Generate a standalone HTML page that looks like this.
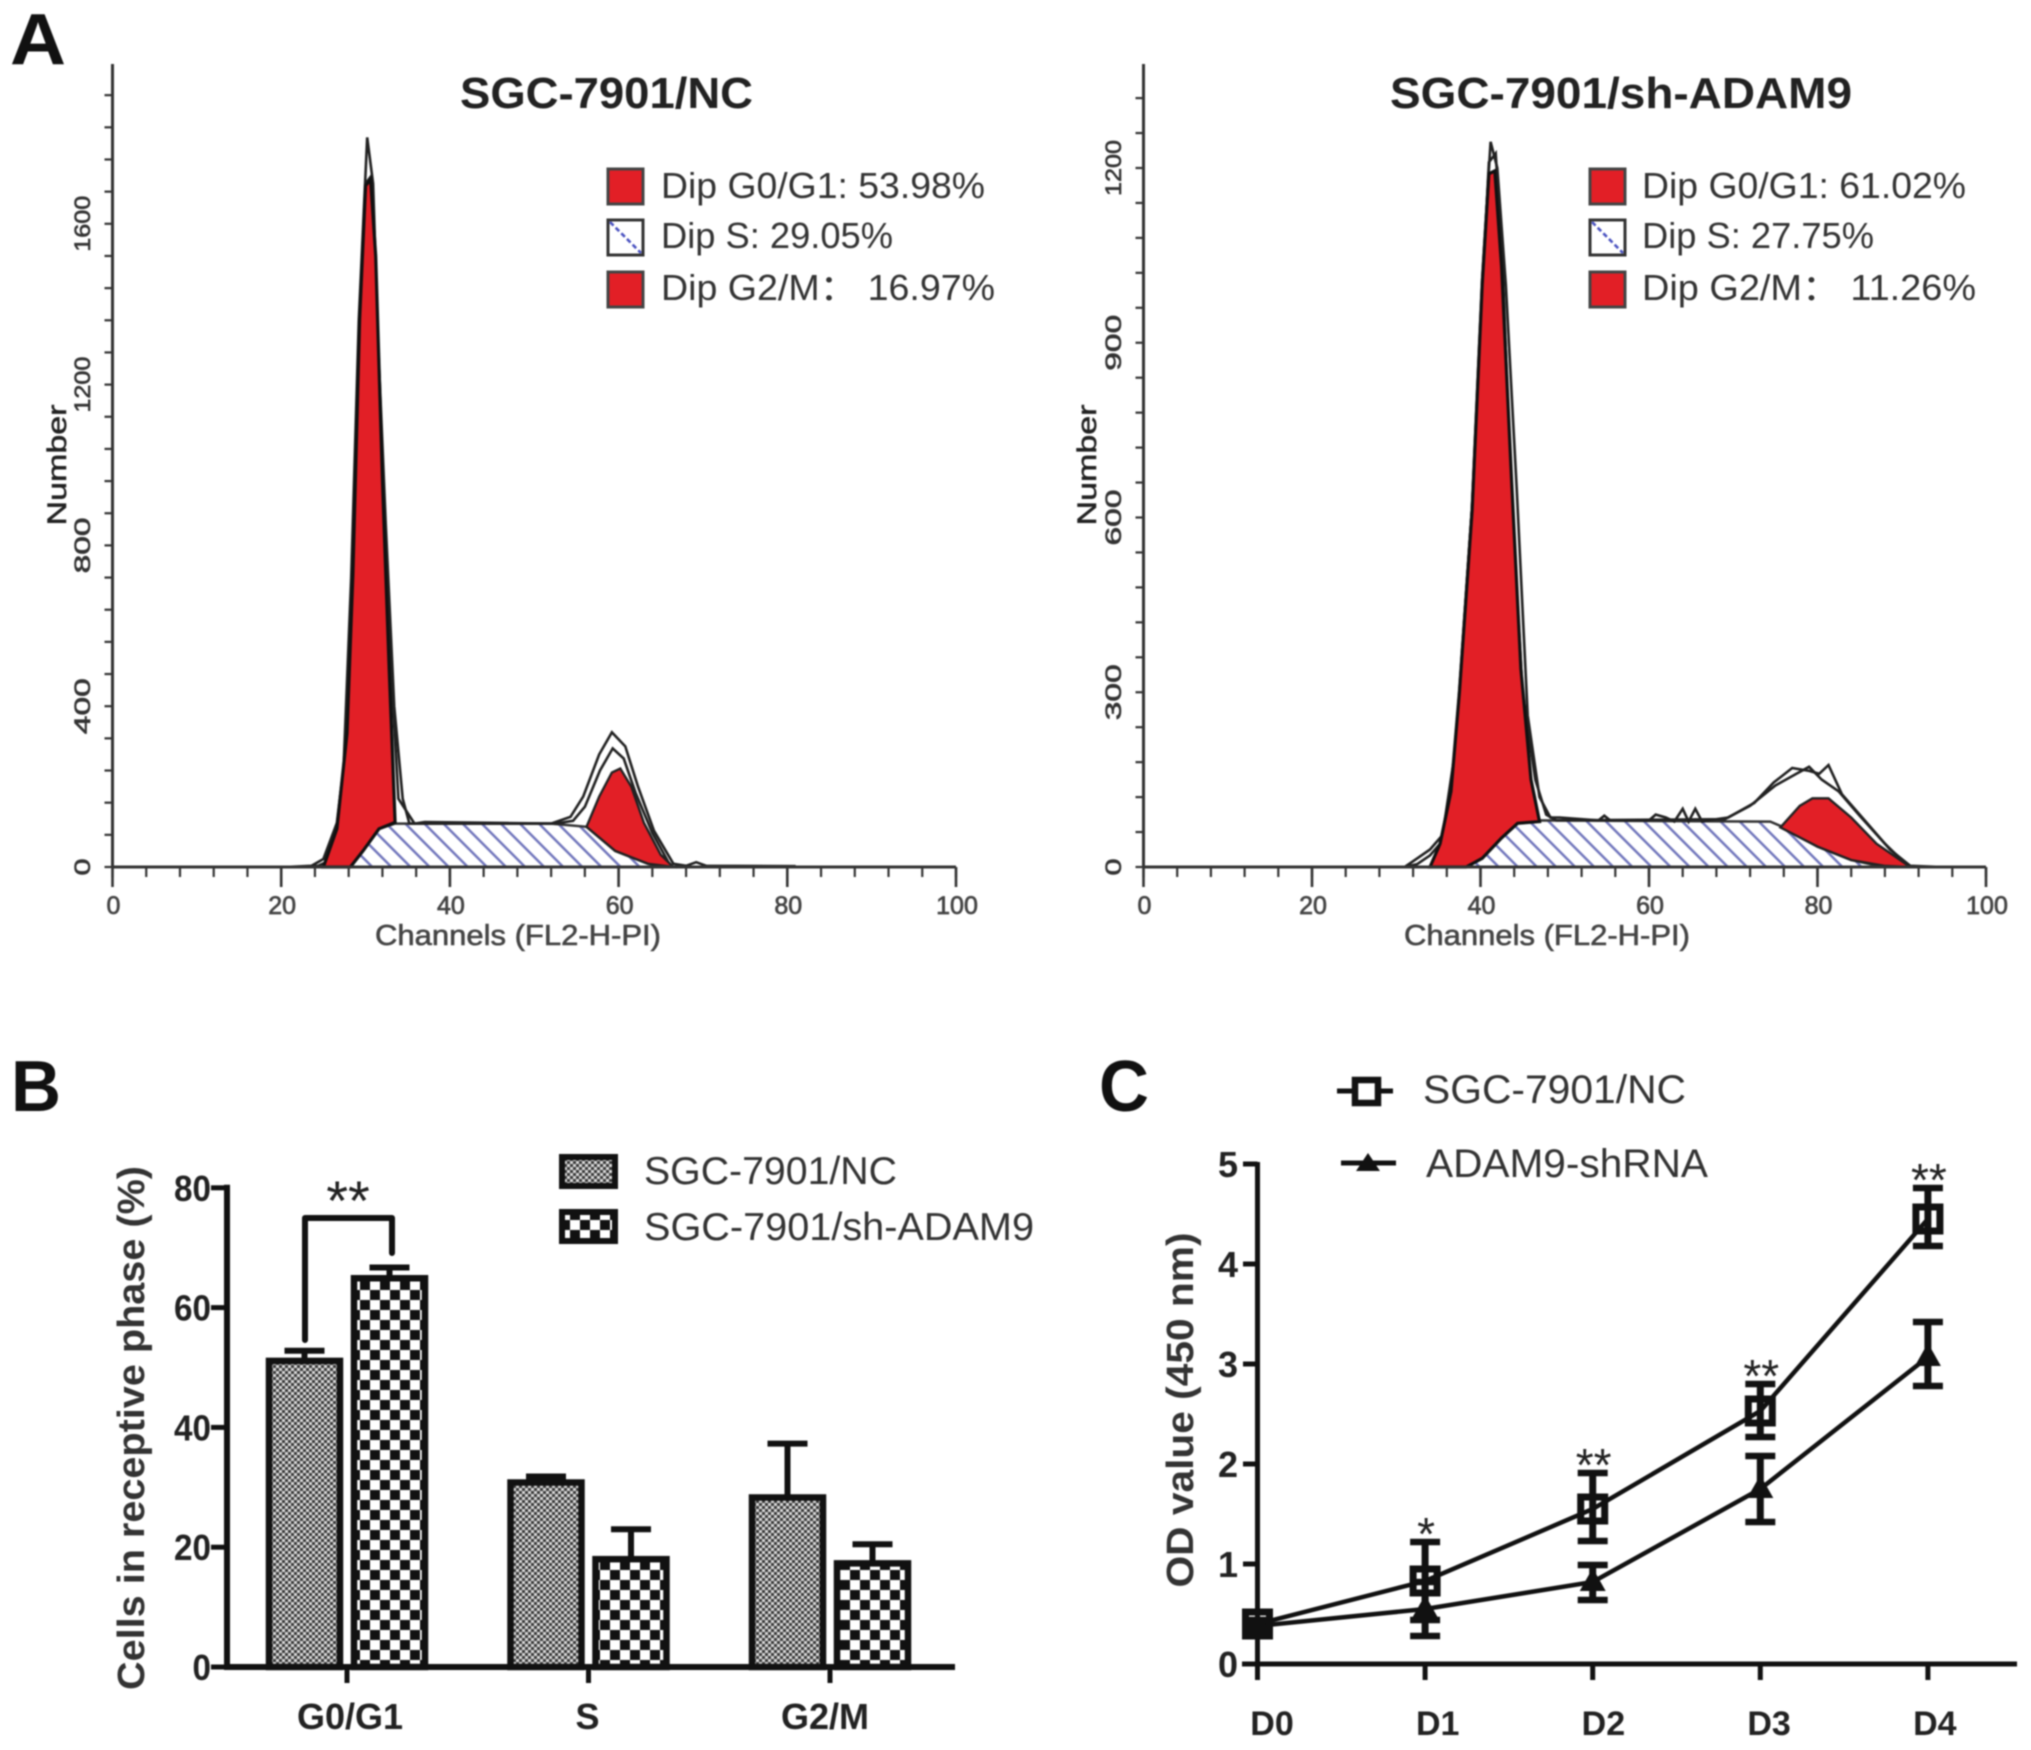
<!DOCTYPE html>
<html lang="en">
<head>
<meta charset="utf-8">
<title>Cell cycle and proliferation figure</title>
<style>
html,body{margin:0;padding:0;background:#fff;}
body{width:2031px;height:1750px;overflow:hidden;}
svg{display:block;filter:blur(0.9px);}
text{font-family:"Liberation Sans","Noto Sans CJK SC",sans-serif;}
</style>
</head>
<body>
<svg id="figure" xmlns="http://www.w3.org/2000/svg" width="2031" height="1750" viewBox="0 0 2031 1750">
<defs>
<pattern id="hatch" patternUnits="userSpaceOnUse" width="13.5" height="13.5" patternTransform="rotate(-45)">
<rect width="13.5" height="13.5" fill="#fff"/><rect x="0" y="0" width="2.5" height="13.5" fill="#7378bd"/>
</pattern>
<pattern id="fine" patternUnits="userSpaceOnUse" width="6" height="6">
<rect width="6" height="6" fill="#d8d8d8"/><rect width="3" height="3" fill="#3a3a3a"/><rect x="3" y="3" width="3" height="3" fill="#3a3a3a"/>
</pattern>
<pattern id="checker" patternUnits="userSpaceOnUse" width="20" height="20">
<rect width="20" height="20" fill="#fff"/><rect width="10" height="10" fill="#111"/><rect x="10" y="10" width="10" height="10" fill="#111"/>
</pattern>
</defs>
<rect width="2031" height="1750" fill="#fff"/>

<text x="10" y="64" font-size="72" font-weight="700" fill="#111" textLength="56" lengthAdjust="spacingAndGlyphs">A</text>
<text x="11" y="1111" font-size="72" font-weight="700" fill="#111" textLength="50" lengthAdjust="spacingAndGlyphs">B</text>
<text x="1099" y="1111" font-size="72" font-weight="700" fill="#111" textLength="50" lengthAdjust="spacingAndGlyphs">C</text>

<text x="460" y="108" font-size="44" font-weight="700" fill="#222" textLength="293" lengthAdjust="spacingAndGlyphs">SGC-7901/NC</text>
<text x="1390" y="108" font-size="44" font-weight="700" fill="#222" textLength="462" lengthAdjust="spacingAndGlyphs">SGC-7901/sh-ADAM9</text>

<g id="histNC"></g>
<g id="histSH"></g>

<g>
<rect x="608" y="169" width="35" height="35" fill="#e21f26" stroke="#444" stroke-width="3"/>
<rect x="608" y="220" width="35" height="35" fill="#fff" stroke="#333" stroke-width="3"/>
<line x1="610" y1="222" x2="641" y2="253" stroke="#4a52c0" stroke-width="2.6" stroke-dasharray="5 3"/>
<rect x="608" y="272" width="35" height="35" fill="#e21f26" stroke="#444" stroke-width="3"/>
<text x="661" y="198" font-size="36" fill="#333" textLength="324" lengthAdjust="spacingAndGlyphs">Dip G0/G1: 53.98%</text>
<text x="661" y="248" font-size="36" fill="#333" textLength="232" lengthAdjust="spacingAndGlyphs">Dip S: 29.05%</text>
<text x="661" y="300" font-size="36" fill="#333" textLength="334" lengthAdjust="spacingAndGlyphs">Dip G2/M：  16.97%</text>
</g>
<g>
<rect x="1595" y="169" width="35" height="35" fill="#e21f26" stroke="#444" stroke-width="3" transform="translate(-5,0)"/>
<rect x="1590" y="220" width="35" height="35" fill="#fff" stroke="#333" stroke-width="3"/>
<line x1="1592" y1="222" x2="1623" y2="253" stroke="#4a52c0" stroke-width="2.6" stroke-dasharray="5 3"/>
<rect x="1590" y="272" width="35" height="35" fill="#e21f26" stroke="#444" stroke-width="3"/>
<text x="1642" y="198" font-size="36" fill="#333" textLength="324" lengthAdjust="spacingAndGlyphs">Dip G0/G1: 61.02%</text>
<text x="1642" y="248" font-size="36" fill="#333" textLength="232" lengthAdjust="spacingAndGlyphs">Dip S: 27.75%</text>
<text x="1642" y="300" font-size="36" fill="#333" textLength="334" lengthAdjust="spacingAndGlyphs">Dip G2/M：  11.26%</text>
</g>

<g id="barChart"></g>
<g>
<rect x="562" y="1157" width="53" height="29" fill="url(#fine)" stroke="#111" stroke-width="6"/>
<rect x="562" y="1212" width="53" height="29" fill="url(#checker)" stroke="#111" stroke-width="6"/>
<text x="644" y="1184" font-size="39" fill="#333" textLength="253" lengthAdjust="spacingAndGlyphs">SGC-7901/NC</text>
<text x="644" y="1240" font-size="39" fill="#333" textLength="390" lengthAdjust="spacingAndGlyphs">SGC-7901/sh-ADAM9</text>
</g>
<text transform="translate(144,1428) rotate(-90)" text-anchor="middle" font-size="38" font-weight="700" fill="#333" textLength="524" lengthAdjust="spacingAndGlyphs">Cells in receptive phase (%)</text>

<g id="lineChart"></g>
<g>
<line x1="1344" y1="1095" x2="1400" y2="1095" stroke="#111" stroke-width="5" transform="translate(-7,-4)"/>
<rect x="1355" y="1080" width="23" height="23" fill="#fff" stroke="#111" stroke-width="6.5"/>
<line x1="1341" y1="1163" x2="1396" y2="1163" stroke="#111" stroke-width="5"/>
<polygon points="1368,1153 1380,1171 1356,1171" fill="#111"/>
<text x="1423" y="1103" font-size="40" fill="#333" textLength="263" lengthAdjust="spacingAndGlyphs">SGC-7901/NC</text>
<text x="1426" y="1177" font-size="40" fill="#333" textLength="282" lengthAdjust="spacingAndGlyphs">ADAM9-shRNA</text>
</g>
<text transform="translate(1193,1410) rotate(-90)" text-anchor="middle" font-size="38" font-weight="700" fill="#333" textLength="355" lengthAdjust="spacingAndGlyphs">OD value (450 nm)</text>
</svg>

<script>
// Histogram shared ticks
const histXTicks = [0, 20, 40, 60, 80, 100];
const ncYTicks = [0, 400, 800, 1200, 1600];
const shYTicks = [0, 300, 600, 900, 1200];

// SGC-7901/NC histogram
const ncG1Channels = [25, 26.6, 27.8, 28.5, 29.3, 30, 30.6, 31.2, 32, 32.8, 33.5, 31.6, 29.7, 28.2];
const ncG1Counts = [0, 95, 332, 729, 1362, 1695, 1710, 1520, 966, 491, 111, 95, 40, 0];
const ncSChannels = [28.2, 29.7, 31.6, 33.5, 52, 56.2, 59.6, 63.5, 65.8];
const ncSCounts = [0, 40, 95, 108, 108, 100, 40, 8, 0];
const ncG2Channels = [56.2, 57.7, 59.2, 60.2, 61.5, 63, 65, 66.5, 63.5, 59.6];
const ncG2Counts = [100, 175, 235, 245, 200, 110, 30, 0, 8, 40];
const ncOuterChannels = [20.5, 23.6, 25, 26.6, 27.4, 28.3, 29.2, 30.2, 30.9, 31.5, 32, 33, 33.9, 35.8, 37, 52, 54.3, 55.8, 57.7, 59.2, 60.8, 62.3, 64.2, 66.5, 68, 69.2, 70.4, 81];
const ncOuterCounts = [0, 3, 20, 110, 250, 720, 1360, 1815, 1700, 1300, 1000, 500, 170, 108, 112, 108, 125, 175, 280, 335, 300, 200, 90, 8, 3, 12, 3, 2];
const ncInnerChannels = [23, 24.4, 25.6, 26.6, 27.6, 28.5, 29.4, 30, 30.7, 31.5, 32.4, 33.4, 34.4, 35.2, 52.5, 54.6, 56, 57.8, 59.3, 60.6, 62, 64, 66];
const ncInnerCounts = [0, 3, 15, 70, 240, 720, 1360, 1700, 1720, 1300, 850, 400, 170, 108, 108, 115, 150, 240, 295, 270, 185, 85, 8];

// SGC-7901/sh-ADAM9 histogram
const shG1Channels = [34, 35.2, 36.5, 37.5, 39, 40.2, 41, 41.7, 42.5, 43.7, 44.8, 46, 47, 44.4, 42.5, 40.2, 38.3];
const shG1Counts = [0, 40, 130, 300, 612, 1000, 1190, 1195, 1030, 660, 340, 150, 78, 75, 50, 15, 0];
const shSChannels = [38.3, 40.2, 42.5, 44.4, 46.3, 74.4, 76, 80, 84, 87.9];
const shSCounts = [0, 15, 50, 75, 80, 78, 68, 35, 12, 0];
const shG2Channels = [75.6, 77.9, 79.4, 81.3, 84, 87, 91, 87.9, 84, 80];
const shG2Counts = [68, 105, 118, 118, 85, 40, 0, 2, 12, 35];
const shOuterChannels = [26.4, 28, 31, 32.5, 34, 35.2, 36.5, 37.5, 39, 40.2, 41.2, 42, 43, 44.3, 45.6, 47, 48.3, 49.4, 54, 54.7, 55.4, 60, 60.8, 62, 63, 64, 64.7, 65.5, 66.3, 67, 69.4, 72.5, 74.8, 77, 79, 80.2, 81.3, 82.9, 85.6, 88.6, 91, 94.8];
const shOuterCounts = [0, 0, 0, 5, 20, 40, 130, 300, 620, 1010, 1245, 1200, 1000, 650, 260, 120, 85, 85, 80, 88, 80, 80, 90, 85, 78, 100, 78, 100, 78, 80, 85, 110, 145, 170, 165, 160, 175, 125, 80, 30, 2, 0];
const shInnerChannels = [31, 32.5, 34, 35.5, 37, 39, 40.3, 41, 41.8, 42.6, 43.6, 45, 46.5, 47.8, 49, 69, 72, 75, 77.5, 79, 80.5, 82.5, 85, 88, 90.5];
const shInnerCounts = [0, 15, 30, 55, 200, 620, 1010, 1210, 1225, 1040, 660, 300, 150, 90, 80, 82, 105, 140, 160, 172, 150, 130, 88, 40, 5];

// Bar chart
const barCategories = ['G0/G1', 'S', 'G2/M'];
const barYTicks = [0, 20, 40, 60, 80];
const ncBarValues = [51.1, 30.8, 28.3];
const ncBarUpper = [52.8, 31.8, 37.3];
const shBarValues = [64.9, 18, 17.3];
const shBarUpper = [66.7, 23, 20.5];

// Line chart
const days = ['D0', 'D1', 'D2', 'D3', 'D4'];
const lineYTicks = [0, 1, 2, 3, 4, 5];
const ncLine = [0.4, 0.83, 1.55, 2.53, 4.45];
const ncLineUpper = [0.44, 1.22, 1.91, 2.8, 4.76];
const ncLineLower = [0.36, 0.44, 1.23, 2.27, 4.18];
const shLine = [0.38, 0.55, 0.82, 1.75, 3.07];
const shLineUpper = [0.42, 0.82, 0.99, 2.08, 3.42];
const shLineLower = [0.34, 0.28, 0.64, 1.42, 2.78];
const lineSignificance = ['', '*', '**', '**', '**'];

const NS = 'http://www.w3.org/2000/svg';
function mk(tag, parent, attrs, content) {
  const el = document.createElementNS(NS, tag);
  for (const k in attrs) el.setAttribute(k, attrs[k]);
  if (content !== undefined) el.textContent = content;
  parent.appendChild(el);
  return el;
}
function pts(xs, ys, fx, fy) {
  return xs.map((v, i) => fx(v).toFixed(1) + ',' + fy(ys[i]).toFixed(1)).join(' ');
}

function drawHistogram(root, cfg) {
  const fx = v => cfg.x0 + v * (cfg.x100 - cfg.x0) / 100;
  const fy = v => cfg.y0 - v * cfg.pxPerCount;

  const s = mk('polygon', root, {points: pts(cfg.sX, cfg.sY, fx, fy), fill: 'url(#hatch)', stroke: '#333', 'stroke-width': 2.5});
  
  

  const outer = mk('polyline', root, {points: pts(cfg.outerX, cfg.outerY, fx, fy), fill: 'none', stroke: '#222', 'stroke-width': 2.6});
  
  

  const inner = mk('polyline', root, {points: pts(cfg.innerX, cfg.innerY, fx, fy), fill: 'none', stroke: '#222', 'stroke-width': 2.6});
  
  

  const g1 = mk('polygon', root, {points: pts(cfg.g1X, cfg.g1Y, fx, fy), fill: '#e21f26', stroke: '#111', 'stroke-width': 3.2});
  
  

  const g2 = mk('polygon', root, {points: pts(cfg.g2X, cfg.g2Y, fx, fy), fill: '#e21f26', stroke: '#222', 'stroke-width': 2.4});
  
  

  const xAxis = mk('line', root, {x1: fx(0), y1: cfg.y0, x2: fx(100), y2: cfg.y0, stroke: '#333', 'stroke-width': 3});
  
  

  const yAxis = mk('line', root, {x1: fx(0), y1: cfg.y0, x2: fx(0), y2: 64, stroke: '#333', 'stroke-width': 3});
  
  

  for (let c = 0; c <= 100; c += 4) {
    const t = mk('line', root, {x1: fx(c), y1: cfg.y0, x2: fx(c), y2: cfg.y0 + 10, stroke: '#333', 'stroke-width': 2.2});
    
    
  }
  histXTicks.forEach(v => {
    const t = mk('line', root, {x1: fx(v), y1: cfg.y0, x2: fx(v), y2: cfg.y0 + 20, stroke: '#333', 'stroke-width': 2.6});
    
    
    const l = mk('text', root, {x: fx(v) + 1, y: 914, 'text-anchor': 'middle', 'font-size': 25, fill: '#444', stroke: '#444', 'stroke-width': 0.7}, String(v));
    
    
  });
  const step = cfg.yTicks[1] / 5;
  for (let c = 0; fy(c) > 70; c += step) {
    const t = mk('line', root, {x1: fx(0) - 8, y1: fy(c), x2: fx(0), y2: fy(c), stroke: '#333', 'stroke-width': 2.2});
    
    
  }
  cfg.yTicks.forEach(v => {
    const lx = fx(0) - 30;
    const len = v === 0 ? 17 : 56;
    const l = mk('text', root, {transform: 'translate(' + lx + ',' + fy(v) + ') rotate(-90)', 'text-anchor': 'middle', 'dominant-baseline': 'central', 'font-size': 22, fill: '#333', stroke: '#333', 'stroke-width': 0.6, textLength: len, lengthAdjust: 'spacingAndGlyphs'}, String(v));
    
    
  });

  const xt = mk('text', root, {x: cfg.xTitleX, y: 945, 'font-size': 29, fill: '#444', stroke: '#444', 'stroke-width': 0.6, textLength: 286, lengthAdjust: 'spacingAndGlyphs'}, 'Channels (FL2-H-PI)');
  
  

  const yt = mk('text', root, {transform: 'translate(' + cfg.yTitleX + ',465) rotate(-90)', 'text-anchor': 'middle', 'dominant-baseline': 'central', 'font-size': 27, fill: '#222', stroke: '#222', 'stroke-width': 0.5, textLength: 121, lengthAdjust: 'spacingAndGlyphs'}, 'Number');
  
  
}

drawHistogram(document.getElementById('histNC'), {
  x0: 112.5, x100: 956, y0: 867, pxPerCount: 0.402, yTicks: ncYTicks, xTitleX: 375, yTitleX: 57,
  g1X: ncG1Channels, g1Y: ncG1Counts, sX: ncSChannels, sY: ncSCounts, g2X: ncG2Channels, g2Y: ncG2Counts,
  outerX: ncOuterChannels, outerY: ncOuterCounts, innerX: ncInnerChannels, innerY: ncInnerCounts
});
drawHistogram(document.getElementById('histSH'), {
  x0: 1143.5, x100: 1986, y0: 867, pxPerCount: 0.5825, yTicks: shYTicks, xTitleX: 1404, yTitleX: 1087,
  g1X: shG1Channels, g1Y: shG1Counts, sX: shSChannels, sY: shSCounts, g2X: shG2Channels, g2Y: shG2Counts,
  outerX: shOuterChannels, outerY: shOuterCounts, innerX: shInnerChannels, innerY: shInnerCounts
});

// ---- Bar chart ----
(function () {
  const root = document.getElementById('barChart');
  const by = v => 1667 - v * 5.99;
  const bc = i => 347 + 241.5 * i;
  const barW = 71;

  function series(values, upper, offset, fill, name) {
    values.forEach((v, i) => {
      const cx = bc(i) + offset;
      const stem = mk('line', root, {x1: cx, y1: by(v), x2: cx, y2: by(upper[i]), stroke: '#111', 'stroke-width': 6});
      
      
      const cap = mk('line', root, {x1: cx - 20, y1: by(upper[i]), x2: cx + 20, y2: by(upper[i]), stroke: '#111', 'stroke-width': 6});
      
      
      const r = mk('rect', root, {x: cx - barW / 2, y: by(v), width: barW, height: by(0) - by(v), fill: fill, stroke: '#111', 'stroke-width': 6.5});
      
      
    });
  }
  series(ncBarValues, ncBarUpper, -42.5, 'url(#fine)', 'nc');
  series(shBarValues, shBarUpper, 42.5, 'url(#checker)', 'sh');

  const xAxis = mk('line', root, {x1: 224, y1: by(0), x2: 955, y2: by(0), stroke: '#111', 'stroke-width': 6});
  
  
  const yAxis = mk('line', root, {x1: 227, y1: by(0), x2: 227, y2: by(80) - 3, stroke: '#111', 'stroke-width': 6});
  
  

  barYTicks.forEach(v => {
    const t = mk('line', root, {x1: 211, y1: by(v), x2: 227, y2: by(v), stroke: '#111', 'stroke-width': 5});
    
    
    const l = mk('text', root, {x: 211, y: by(v) + 13, 'text-anchor': 'end', 'font-size': 36, 'font-weight': 700, fill: '#222', textLength: String(v).length * 18.5, lengthAdjust: 'spacingAndGlyphs'}, String(v));
    
    
  });
  barCategories.forEach((c, i) => {
    const t = mk('line', root, {x1: bc(i), y1: by(0), x2: bc(i), y2: 1683, stroke: '#111', 'stroke-width': 5});
    
    
    const l = mk('text', root, {x: bc(i) + 3 - 4 * i, y: 1729, 'text-anchor': 'middle', 'font-size': 36, 'font-weight': 700, fill: '#222'}, c);
    
    
  });

  const bracket = mk('polyline', root, {points: '305,1340 305,1218 392,1218 392,1253', fill: 'none', stroke: '#111', 'stroke-width': 6, 'stroke-linecap': 'round', 'stroke-linejoin': 'round'});
  
  
  const star = mk('text', root, {x: 348, y: 1220, 'text-anchor': 'middle', 'font-size': 56, fill: '#222'}, '**');
  
  
})();

// ---- Line chart ----
(function () {
  const root = document.getElementById('lineChart');
  const lx = i => 1257.5 + i * 167.6;
  const ly = v => 1664 - v * 100;

  const xAxis = mk('line', root, {x1: 1242, y1: ly(0), x2: 2017, y2: ly(0), stroke: '#111', 'stroke-width': 5});
  
  
  const yAxis = mk('line', root, {x1: lx(0), y1: ly(0), x2: lx(0), y2: ly(5) - 2, stroke: '#111', 'stroke-width': 5});
  
  

  lineYTicks.forEach(v => {
    const t = mk('line', root, {x1: 1243, y1: ly(v), x2: lx(0), y2: ly(v), stroke: '#111', 'stroke-width': 5});
    
    
    const l = mk('text', root, {x: 1238, y: ly(v) + 13, 'text-anchor': 'end', 'font-size': 36, 'font-weight': 700, fill: '#222'}, String(v));
    
    
  });
  days.forEach((d, i) => {
    const t = mk('line', root, {x1: lx(i), y1: ly(0), x2: lx(i), y2: 1680, stroke: '#111', 'stroke-width': 5});
    
    
    const l = mk('text', root, {x: lx(i) + 14.5 - 1.9 * i, y: 1735, 'text-anchor': 'middle', 'font-size': 34, 'font-weight': 700, fill: '#222'}, d);
    
    
  });

  function series(values, upper, lower, name) {
    const line = mk('polyline', root, {points: values.map((v, i) => lx(i).toFixed(1) + ',' + ly(v).toFixed(1)).join(' '), fill: 'none', stroke: '#111', 'stroke-width': 4.5});
    
    
    values.forEach((v, i) => {
      const stem = mk('line', root, {x1: lx(i), y1: ly(upper[i]), x2: lx(i), y2: ly(lower[i]), stroke: '#111', 'stroke-width': 7});
      
      
      [upper[i], lower[i]].forEach(e => {
        const cap = mk('line', root, {x1: lx(i) - 15, y1: ly(e), x2: lx(i) + 15, y2: ly(e), stroke: '#111', 'stroke-width': 6.5});
        
        
      });
    });
  }
  series(shLine, shLineUpper, shLineLower, 'sh');
  series(ncLine, ncLineUpper, ncLineLower, 'nc');

  shLine.forEach((v, i) => {
    const x = lx(i), y = ly(v);
    const m = mk('polygon', root, {points: (x) + ',' + (y - 14) + ' ' + (x + 13) + ',' + (y + 9) + ' ' + (x - 13) + ',' + (y + 9), fill: '#111'});
    
    
  });
  ncLine.forEach((v, i) => {
    const m = mk('rect', root, {x: lx(i) - 12, y: ly(v) - 12, width: 24, height: 24, fill: 'none', stroke: '#111', 'stroke-width': 7});
    
    
    const star = lineSignificance[i];
    if (star) {
      const s = mk('text', root, {x: lx(i) + 1, y: ly(ncLineUpper[i]) + 8, 'text-anchor': 'middle', 'font-size': 46, fill: '#222'}, star);
      
      
    }
  });
})();
</script>
</body>
</html>
